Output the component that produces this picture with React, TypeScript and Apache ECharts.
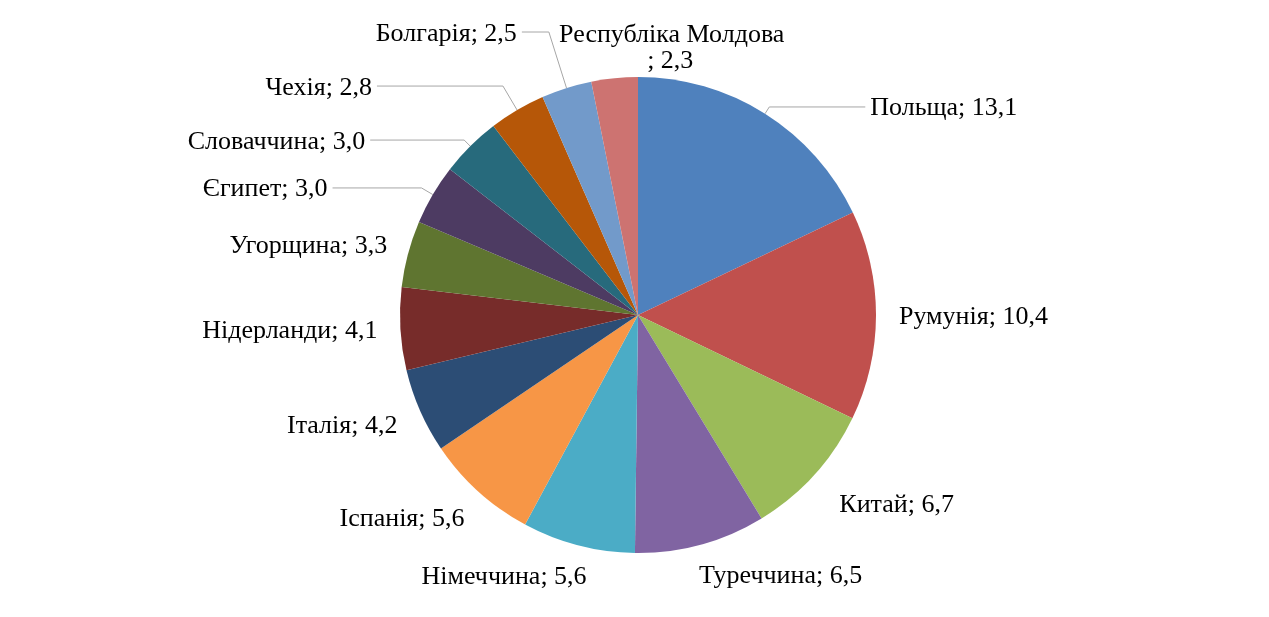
import React, { useEffect, useRef } from "react";
import * as echarts from "echarts";

// ---- data ----
const countries = [
  "Польща",
  "Румунія",
  "Китай",
  "Туреччина",
  "Німеччина",
  "Іспанія",
  "Італія",
  "Нідерланди",
  "Угорщина",
  "Єгипет",
  "Словаччина",
  "Чехія",
  "Болгарія",
  "Республіка Молдова",
];
const shares = [13.1, 10.4, 6.7, 6.5, 5.6, 5.6, 4.2, 4.1, 3.3, 3.0, 3.0, 2.8, 2.5, 2.3];

// ---- styles ----
const sliceColors = [
  "#4F81BD", "#C0504D", "#9BBB59", "#8064A2", "#4BACC6", "#F79646", "#2C4D75",
  "#772C2A", "#5F7530", "#4D3B62", "#276A7C", "#B65708", "#729ACA", "#CD7371",
];
// label placement per slice: [labelLine length, length2, show line]
const labelPlacement: [number, number, boolean][] = [
  [8, 96, true],
  [10, 8, false],
  [42, -11, false],
  [31.5, -15, false],
  [30.6, -21, false],
  [35.6, -15, false],
  [34.6, -14, false],
  [20, -2, false],
  [38, -21, false],
  [13, 89, true],
  [8.6, 94, true],
  [27.8, 126, true],
  [58.7, 27, true],
  [31.8, -178, false],
];

const FONT = "serif";
const fmt = (v: number) => v.toFixed(1).replace(".", ",");
const PAD = "\u00A0".repeat(14);

export default function App() {
  const ref = useRef<HTMLDivElement>(null);
  useEffect(() => {
    if (!ref.current) return;
    const chart = echarts.init(ref.current, undefined, { renderer: "svg" });
    const mainData = countries.map((name, i) => {
      const [len, len2, showLine] = labelPlacement[i];
      return {
        name,
        value: shares[i],
        itemStyle: { color: sliceColors[i] },
        labelLine: { show: showLine, length: len, length2: len2 },
      };
    });
    const option: any = {
      animation: false,
      series: [
        {
          type: "pie",
          center: [638, 315],
          radius: 238,
          startAngle: 90,
          clockwise: true,
          avoidLabelOverlap: false,
          data: mainData,
          label: {
            fontFamily: FONT,
            fontSize: 26,
            fontWeight: "normal",
            fontStyle: "normal",
            color: "#000",
            formatter: (p: any) =>
              p.name.length > 14
                ? `${p.name}\n; ${fmt(p.value)}${PAD}`
                : `${p.name}; ${fmt(p.value)}`,
          },
          labelLine: {
            lineStyle: { color: "#a6a6a6", width: 1 },
          },
        },
      ],
    };
    chart.setOption(option);
    return () => chart.dispose();
  }, []);
  return (
    <div
      ref={ref}
      style={{ position: "fixed", left: 0, top: 0, width: 1269, height: 617 }}
    />
  );
}
